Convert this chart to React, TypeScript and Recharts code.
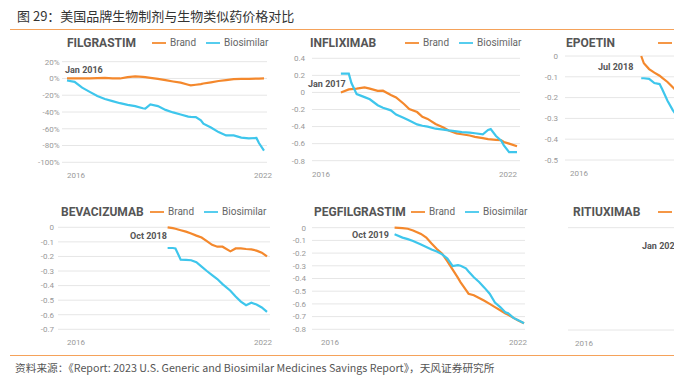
import { CartesianGrid, Legend, Line, LineChart, XAxis, YAxis } from 'recharts';

const BRAND = '#f4882c';
const BIO = '#3ec6ec';
const ORANGE_RULE = '#f5a25a';

// x = months since Jan 2016, y = price change vs launch
const filgrastimMonths = [0, 3, 6, 9, 12, 15, 18, 21, 24, 27, 30, 31, 33, 36, 39, 42, 45, 48, 49, 51, 53, 54, 57, 60, 63, 66, 69, 72, 75, 76, 78];
const filgrastimBrand = [0, 0, 0, 0, 0.3, 0.8, 0, 0, 1.5, 2.5, 1.8, 1.5, 0.8, -0.5, -2, -3.6, -5, -7.5, -8.3, -7.5, -6.8, -6, -4.6, -3, -2, -0.8, -0.4, -0.4, -0.2, -0.1, 0];
const filgrastimBio = [-2.4, -4, -11, -16, -21, -24.5, -27, -29.5, -31.5, -33, -35.5, -36, -31, -33, -37.5, -40.5, -43, -45.5, -45.8, -46, -50, -54, -58.5, -64, -68, -68, -70.5, -71.5, -71, -77, -86];

const infliximabMonths = [11, 14, 15, 17, 20, 22, 25, 27, 30, 32, 35, 37, 40, 42, 44, 47, 50, 52, 55, 57, 60, 62, 65, 67, 68, 70, 72, 73, 75, 78];
const infliximabBrand = [0, 0.035, 0.038, 0.045, 0.06, 0.045, 0.018, 0.02, -0.03, -0.058, -0.135, -0.195, -0.23, -0.285, -0.31, -0.37, -0.41, -0.445, -0.48, -0.49, -0.505, -0.52, -0.535, -0.548, -0.55, -0.555, -0.56, -0.58, -0.6, -0.63];
const infliximabBio = [0.22, 0.22, 0.11, -0.02, -0.055, -0.08, -0.15, -0.18, -0.21, -0.26, -0.3, -0.33, -0.375, -0.39, -0.4, -0.425, -0.435, -0.445, -0.457, -0.465, -0.472, -0.478, -0.49, -0.44, -0.43, -0.51, -0.565, -0.62, -0.7, -0.7];

const epoetinMonths = [29, 30, 32, 34, 36, 37, 39, 41, 43];
const epoetinBrand = [0, -0.035, -0.063, -0.08, -0.095, -0.105, -0.125, -0.15, -0.175];
const epoetinBio = [-0.107, -0.107, -0.11, -0.13, -0.135, -0.16, -0.215, -0.26, -0.295];

const bevacizumabMonths = [40, 42, 43, 45, 47, 49, 51, 53, 55, 57, 59, 61, 64, 66, 68, 70, 72, 74, 76, 78];
const bevacizumabBrand = [0, -0.006, -0.01, -0.02, -0.03, -0.042, -0.057, -0.07, -0.095, -0.12, -0.133, -0.133, -0.165, -0.145, -0.145, -0.149, -0.152, -0.16, -0.174, -0.2];
const bevacizumabBio = [-0.142, -0.142, -0.145, -0.222, -0.224, -0.226, -0.24, -0.27, -0.3, -0.328, -0.355, -0.39, -0.435, -0.475, -0.51, -0.535, -0.518, -0.53, -0.55, -0.58];

const pegfilgrastimMonths = [29, 32, 34, 36, 39, 41, 43, 45, 47, 49, 51, 53, 54, 56, 57, 59, 61, 63, 65, 67, 69, 71, 72, 74, 76, 78];
const pegfilgrastimBrand = [0, -0.003, -0.008, -0.022, -0.049, -0.077, -0.125, -0.168, -0.205, -0.265, -0.33, -0.395, -0.43, -0.49, -0.52, -0.532, -0.553, -0.575, -0.6, -0.625, -0.65, -0.675, -0.685, -0.71, -0.732, -0.752];
const pegfilgrastimBio = [-0.052, -0.078, -0.09, -0.104, -0.133, -0.152, -0.172, -0.188, -0.21, -0.243, -0.302, -0.295, -0.3, -0.32, -0.345, -0.39, -0.427, -0.472, -0.52, -0.59, -0.625, -0.667, -0.673, -0.71, -0.73, -0.753];

// only the empty left part of this panel is visible
const rituximabMonths = [0, 78];
const rituximabBrand = [null, null];
const rituximabBio = [null, null];

const xTickLabels = ['2016', '2022'];
const seriesOrder = ['Brand', 'Biosimilar'];

type Panel = {
  name: string;
  note: string;
  months: number[];
  brand: (number | null)[];
  bio: (number | null)[];
  yTicks: number[];
  percent?: boolean;
  plot: [number, number, number, number];
  pad: [number, number];
  labelGap: number;
  tickShift: [number, number];
  title: [number, number];
  legendX: number;
  notePos: [number, number];
};

const panels: Panel[] = [
  {
    name: 'FILGRASTIM', note: 'Jan 2016',
    months: filgrastimMonths, brand: filgrastimBrand, bio: filgrastimBio,
    yTicks: [20, 0, -20, -40, -60, -80, -100], percent: true,
    plot: [62, 267, 61.7, 162.3], pad: [5, 3], labelGap: 2.5, tickShift: [0, 8],
    title: [67, 43], legendX: 152, notePos: [65, 70],
  },
  {
    name: 'INFLIXIMAB', note: 'Jan 2017',
    months: infliximabMonths, brand: infliximabBrand, bio: infliximabBio,
    yTicks: [0.4, 0.2, 0, -0.2, -0.4, -0.6, -0.8],
    plot: [312, 520, 58.3, 160.7], pad: [0, 3], labelGap: 7, tickShift: [0, 0],
    title: [310, 43], legendX: 405, notePos: [308, 84],
  },
  {
    name: 'EPOETIN', note: 'Jul 2018',
    months: epoetinMonths, brand: epoetinBrand, bio: epoetinBio,
    yTicks: [0, -0.1, -0.2, -0.3, -0.4, -0.5],
    plot: [565, 773, 56, 160], pad: [0, 3], labelGap: 7, tickShift: [5, 0],
    title: [566, 43], legendX: 658, notePos: [598, 67],
  },
  {
    name: 'BEVACIZUMAB', note: 'Oct 2018',
    months: bevacizumabMonths, brand: bevacizumabBrand, bio: bevacizumabBio,
    yTicks: [0, -0.1, -0.2, -0.3, -0.4, -0.5, -0.6, -0.7],
    plot: [58, 270, 227.3, 329.3], pad: [5, 3], labelGap: 4, tickShift: [4, 5],
    title: [61, 211.5], legendX: 150, notePos: [130, 236],
  },
  {
    name: 'PEGFILGRASTIM', note: 'Oct 2019',
    months: pegfilgrastimMonths, brand: pegfilgrastimBrand, bio: pegfilgrastimBio,
    yTicks: [0, -0.1, -0.2, -0.3, -0.4, -0.5, -0.6, -0.7, -0.8],
    plot: [312, 525, 227.7, 329.3], pad: [6, 1], labelGap: 6, tickShift: [3, 3],
    title: [314, 211.5], legendX: 411, notePos: [352, 235],
  },
  {
    name: 'RITIUXIMAB', note: 'Jan 2020',
    months: rituximabMonths, brand: rituximabBrand, bio: rituximabBio,
    yTicks: [0, -0.1, -0.2, -0.3, -0.4, -0.5, -0.6],
    plot: [568, 780, 227.7, 330], pad: [0, 3], labelGap: 2.5, tickShift: [7, 0],
    title: [573, 211.5], legendX: 658, notePos: [642, 246],
  },
];

const CHART_W = 900;
const CHART_H = 378;
const Y_W = 40;
const X_H = 24;
const LAST_MONTH = 78;

const fmtTick = (percent?: boolean) => (v: number) =>
  percent ? `${v}%` : v === 0 ? '0' : v.toFixed(1);

const PanelChart = ({ p }: { p: Panel }) => {
  const rows = p.months.map((t, i) => ({ t, brand: p.brand[i], bio: p.bio[i] }));
  const [x0, x1, yTop, yBottom] = p.plot;
  const yMin = Math.min(...p.yTicks);
  const yMax = Math.max(...p.yTicks);

  const renderXTick = (props: any) => {
    const first = props.payload.value === 0;
    return (
      <text
        x={props.x + (first ? p.tickShift[0] : p.tickShift[1])}
        y={props.y}
        dy='0.71em'
        textAnchor={first ? 'start' : 'end'}
        fontSize={8}
        fill='#999'
      >
        {first ? xTickLabels[0] : xTickLabels[1]}
      </text>
    );
  };

  return (
    <div style={{ position: 'absolute', left: 0, top: 0 }}>
      <LineChart
        width={CHART_W}
        height={CHART_H}
        data={rows}
        margin={{
          left: x0 - Y_W,
          right: CHART_W - x1,
          top: yTop,
          bottom: CHART_H - yBottom - X_H,
        }}
      >
        <CartesianGrid vertical={false} stroke='#e6e6e6' />
        <XAxis
          dataKey='t'
          type='number'
          domain={[0, LAST_MONTH]}
          ticks={[0, LAST_MONTH]}
          padding={{ left: p.pad[0], right: p.pad[1] }}
          axisLine={false}
          tickLine={false}
          tickSize={0}
          tickMargin={10.5}
          height={X_H}
          tick={renderXTick}
        />
        <YAxis
          type='number'
          domain={[yMin, yMax]}
          ticks={p.yTicks}
          width={Y_W}
          axisLine={false}
          tickLine={false}
          tickSize={0}
          tickMargin={p.labelGap}
          tickFormatter={fmtTick(p.percent)}
          tick={{ fontSize: 8, fill: '#999' }}
          interval={0}
        />
        <Legend
          layout='horizontal'
          verticalAlign='middle'
          align='center'
          iconType='plainline'
          iconSize={14}
          itemSorter={(item: any) => seriesOrder.indexOf(item.value)}
          wrapperStyle={{
            left: p.legendX,
            top: p.title[1] - 8,
            width: 'auto',
            height: 16,
            lineHeight: '16px',
            fontSize: 10,
            whiteSpace: 'nowrap',
          }}
          formatter={(value: string) => <span style={{ color: '#666' }}>{value}</span>}
        />
        <Line
          name='Brand'
          dataKey='brand'
          stroke={BRAND}
          strokeWidth={2.2}
          dot={false}
          activeDot={false}
          isAnimationActive={false}
        />
        <Line
          name='Biosimilar'
          dataKey='bio'
          stroke={BIO}
          strokeWidth={2.2}
          dot={false}
          activeDot={false}
          isAnimationActive={false}
        />
      </LineChart>
      <div
        style={{
          position: 'absolute',
          left: p.title[0],
          top: p.title[1],
          transform: 'translateY(-50%)',
          fontSize: 12,
          fontWeight: 700,
          color: '#555',
          lineHeight: 1,
          whiteSpace: 'nowrap',
        }}
      >
        {p.name}
      </div>
      <div
        style={{
          position: 'absolute',
          left: p.notePos[0],
          top: p.notePos[1],
          transform: 'translateY(-50%)',
          fontSize: 9,
          fontWeight: 700,
          color: '#555',
          lineHeight: 1,
          whiteSpace: 'nowrap',
        }}
      >
        {p.note}
      </div>
    </div>
  );
};

export default function App() {
  return (
    <div
      style={{
        position: 'absolute',
        left: 0,
        top: 0,
        width: 674,
        height: 378,
        overflow: 'hidden',
        background: '#fff',
        fontFamily: 'Roboto, "Noto Sans", sans-serif',
      }}
    >
      <div
        style={{
          position: 'absolute',
          left: 17,
          top: 15,
          transform: 'translateY(-50%)',
          fontFamily: '"Noto Sans CJK SC", sans-serif',
          fontSize: 13,
          color: '#333',
          lineHeight: 1,
          whiteSpace: 'nowrap',
        }}
      >
        图 29：美国品牌生物制剂与生物类似药价格对比
      </div>
      <div style={{ position: 'absolute', left: 10, right: 0, top: 29, height: 1, background: ORANGE_RULE }} />
      {panels.map((p) => (
        <PanelChart key={p.name} p={p} />
      ))}
      <div style={{ position: 'absolute', left: 10, right: 0, top: 355, height: 1, background: ORANGE_RULE }} />
      <div
        style={{
          position: 'absolute',
          left: 15,
          top: 368,
          transform: 'translateY(-50%)',
          fontFamily: '"Noto Sans CJK SC", sans-serif',
          fontSize: 10.7,
          color: '#555',
          lineHeight: 1,
          whiteSpace: 'nowrap',
        }}
      >
        资料来源：《Report: 2023 U.S. Generic and Biosimilar Medicines Savings Report》，天风证券研究所
      </div>
    </div>
  );
}
